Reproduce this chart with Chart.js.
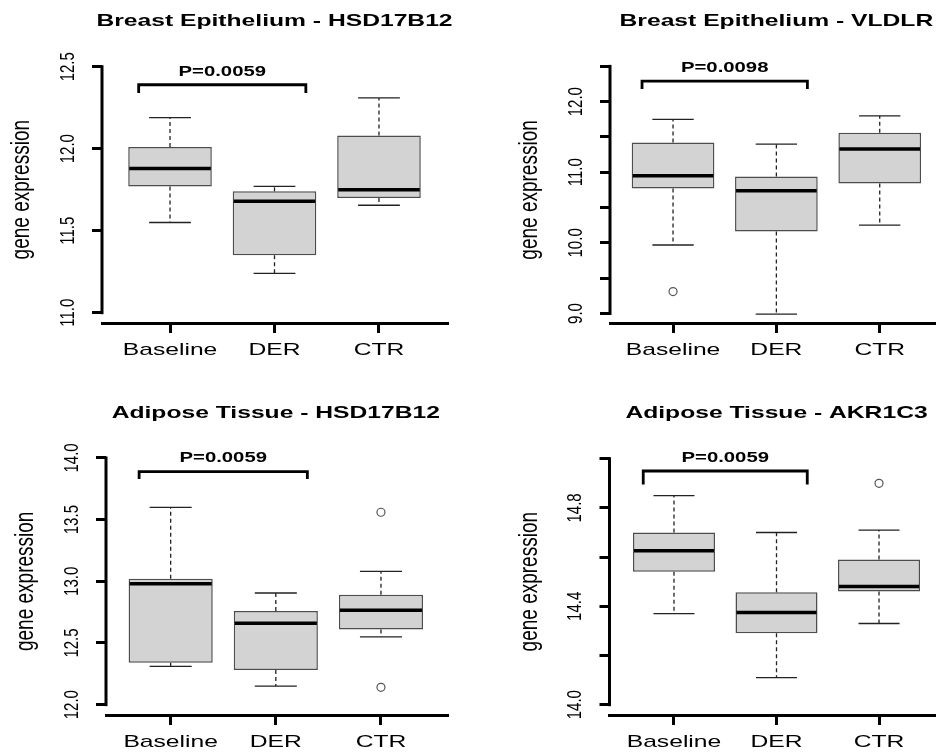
<!DOCTYPE html>
<html>
<head>
<meta charset="utf-8">
<script src="https://cdn.jsdelivr.net/npm/chart.js@4.4.1/dist/chart.umd.min.js"></script>
<style>
  html, body { margin: 0; padding: 0; background: #fff; overflow: hidden; }
  #wrap { position: relative; width: 940px; height: 754px; }
  canvas { position: absolute; }
</style>
</head>
<body>
<div id="wrap">
  <canvas id="c1" width="470" height="377" style="left:0;top:0"></canvas>
  <canvas id="c2" width="470" height="377" style="left:470px;top:0"></canvas>
  <canvas id="c3" width="470" height="377" style="left:0;top:377px"></canvas>
  <canvas id="c4" width="470" height="377" style="left:470px;top:377px"></canvas>
</div>
<script>
const groups = ['Baseline', 'DER', 'CTR'];

// per group: [lower whisker, Q1, median, Q3, upper whisker]
const breastHsdStats = [[11.55, 11.77, 11.88, 12.01, 12.19], [11.24, 11.35, 11.68, 11.74, 11.77], [11.655, 11.70, 11.75, 12.08, 12.31]];
const breastHsdOut = [[], [], []];
const breastHsdTicks = [11.0, 11.5, 12.0, 12.5];
const breastHsdLabels = ['11.0', '11.5', '12.0', '12.5'];

const breastVldlrStats = [[9.97, 10.77, 10.95, 11.42, 11.75], [8.99, 10.16, 10.74, 10.94, 11.40], [10.25, 10.84, 11.33, 11.56, 11.80]];
const breastVldlrOut = [[9.31], [], []];
const breastVldlrTicks = [9.0, 9.5, 10.0, 10.5, 11.0, 11.5, 12.0, 12.5];
const breastVldlrLabels = ['9.0', '', '10.0', '', '11.0', '', '12.0', ''];

const adiposeHsdStats = [[12.31, 12.34, 12.98, 13.02, 13.60], [12.15, 12.28, 12.66, 12.76, 12.905], [12.55, 12.61, 12.765, 12.89, 13.08]];
const adiposeHsdOut = [[], [], [13.56, 12.14]];
const adiposeHsdTicks = [12.0, 12.5, 13.0, 13.5, 14.0];
const adiposeHsdLabels = ['12.0', '12.5', '13.0', '13.5', '14.0'];

const adiposeAkrStats = [[14.37, 14.54, 14.626, 14.70, 14.85], [14.11, 14.29, 14.375, 14.457, 14.70], [14.33, 14.46, 14.48, 14.59, 14.71]];
const adiposeAkrOut = [[], [], [14.90]];
const adiposeAkrTicks = [14.0, 14.2, 14.4, 14.6, 14.8, 15.0];
const adiposeAkrLabels = ['14.0', '', '14.4', '', '14.8', ''];

const titles = ['Breast Epithelium - HSD17B12', 'Breast Epithelium - VLDLR', 'Adipose Tissue - HSD17B12', 'Adipose Tissue - AKR1C3'];
const pValues = ['P=0.0059', 'P=0.0098', 'P=0.0059', 'P=0.0059'];
const yTitle = 'gene expression';

const FONT = "'Liberation Sans', Arial, sans-serif";
const SX = 1.45;  // horizontal text looks stretched in the original
const SX_UP = 1.35; // same for the rotated text, a bit less

// panel setup (plot box in canvas px, axis ranges, bracket height)
const panels = [
  { id: 'c1', title: titles[0], stats: breastHsdStats, outliers: breastHsdOut, ticks: breastHsdTicks, tickLabels: breastHsdLabels, pText: pValues[0], bracket: [12.39, 12.34],
    left: 102, right: 447, bottom: 323, xMin: 0.349, xMax: 3.651, yMin: 10.937, yMax: 12.602 },
  { id: 'c2', title: titles[1], stats: breastVldlrStats, outliers: breastVldlrOut, ticks: breastVldlrTicks, tickLabels: breastVldlrLabels, pText: pValues[1], bracket: [12.29, 12.18],
    left: 140, right: 470, bottom: 323, xMin: 0.39, xMax: 3.533, yMin: 8.865, yMax: 12.732 },
  { id: 'c3', title: titles[2], stats: adiposeHsdStats, outliers: adiposeHsdOut, ticks: adiposeHsdTicks, tickLabels: adiposeHsdLabels, pText: pValues[2], bracket: [13.89, 13.83],
    left: 106, right: 447, bottom: 338, xMin: 0.385, xMax: 3.628, yMin: 11.916, yMax: 14.251 },
  { id: 'c4', title: titles[3], stats: adiposeAkrStats, outliers: adiposeAkrOut, ticks: adiposeAkrTicks, tickLabels: adiposeAkrLabels, pText: pValues[3], bracket: [14.95, 14.895],
    left: 139.5, right: 470, bottom: 338, xMin: 0.371, xMax: 3.544, yMin: 13.958, yMax: 15.129 }
];

function line(ctx, x1, y1, x2, y2) {
  ctx.beginPath();
  ctx.moveTo(x1, y1);
  ctx.lineTo(x2, y2);
  ctx.stroke();
}

function wideText(ctx, text, x, y, font) {
  ctx.save();
  ctx.translate(x, y);
  ctx.scale(SX, 1);
  ctx.font = font;
  ctx.fillText(text, 0, 0);
  ctx.restore();
}

function upText(ctx, text, x, y, font) {
  ctx.save();
  ctx.translate(x, y);
  ctx.scale(SX_UP, 1);
  ctx.rotate(-Math.PI / 2);
  ctx.font = font;
  ctx.fillText(text, 0, 0);
  ctx.restore();
}

// whiskers, caps and medians
const boxParts = {
  id: 'boxParts',
  afterDatasetsDraw(chart) {
    const p = chart.options.plugins.boxParts;
    const { ctx } = chart;
    const { x, y } = chart.scales;
    const bars = chart.getDatasetMeta(0).data;
    ctx.save();
    p.stats.forEach((s, i) => {
      const cx = x.getPixelForValue(i + 1);
      const capL = x.getPixelForValue(i + 0.8);
      const capR = x.getPixelForValue(i + 1.2);
      ctx.strokeStyle = '#222';
      ctx.lineWidth = 1.3;
      ctx.setLineDash([4, 3]);
      line(ctx, cx, y.getPixelForValue(s[3]), cx, y.getPixelForValue(s[4]));
      line(ctx, cx, y.getPixelForValue(s[1]), cx, y.getPixelForValue(s[0]));
      ctx.setLineDash([]);
      line(ctx, capL, y.getPixelForValue(s[4]), capR, y.getPixelForValue(s[4]));
      line(ctx, capL, y.getPixelForValue(s[0]), capR, y.getPixelForValue(s[0]));
      const b = bars[i];
      ctx.strokeStyle = '#000';
      ctx.lineWidth = 3.5;
      line(ctx, b.x - b.width / 2 + 1, y.getPixelForValue(s[2]), b.x + b.width / 2 - 1, y.getPixelForValue(s[2]));
    });
    ctx.restore();
  },
  afterDraw(chart) {
    const p = chart.options.plugins.boxParts;
    const { ctx, chartArea } = chart;
    const { x, y } = chart.scales;
    const topTick = y.getPixelForValue(p.ticks[p.ticks.length - 1]);
    const lowTick = y.getPixelForValue(p.ticks[0]);
    ctx.save();
    ctx.fillStyle = '#000';
    ctx.strokeStyle = '#000';
    ctx.textAlign = 'center';
    ctx.textBaseline = 'middle';

    // y axis line over the tick range only
    ctx.lineWidth = 3;
    ctx.lineCap = 'square';
    line(ctx, chartArea.left, lowTick, chartArea.left, topTick);
    ctx.lineCap = 'butt';

    // rotated tick labels
    p.ticks.forEach((v, i) => {
      if (p.tickLabels[i]) upText(ctx, p.tickLabels[i], chartArea.left - 34, y.getPixelForValue(v), '15px ' + FONT);
    });
    upText(ctx, yTitle, chartArea.left - 80, (topTick + lowTick) / 2, '19px ' + FONT);

    // group labels
    groups.forEach((g, i) => {
      wideText(ctx, g, x.getPixelForValue(i + 1), chartArea.bottom + 27, '17px ' + FONT);
    });

    // title
    wideText(ctx, p.title, x.getPixelForValue(2), topTick - 45, 'bold 17px ' + FONT);

    // significance bracket
    const bx1 = x.getPixelForValue(0.7);
    const bx2 = x.getPixelForValue(2.3);
    const by = y.getPixelForValue(p.bracket[0]);
    const byLow = y.getPixelForValue(p.bracket[1]);
    ctx.lineWidth = 2.8;
    ctx.beginPath();
    ctx.moveTo(bx1, byLow);
    ctx.lineTo(bx1, by);
    ctx.lineTo(bx2, by);
    ctx.lineTo(bx2, byLow);
    ctx.stroke();
    wideText(ctx, p.pText, (bx1 + bx2) / 2, by - 13, 'bold 14px ' + FONT);
    ctx.restore();
  }
};

panels.forEach(p => {
  new Chart(document.getElementById(p.id), {
    type: 'bar',
    data: {
      datasets: [
        {
          data: p.stats.map((s, i) => ({ x: i + 1, y: [s[1], s[3]] })),
          backgroundColor: '#d3d3d3',
          borderColor: '#4d4d4d',
          borderWidth: 1.5,
          borderSkipped: false,
          categoryPercentage: 1,
          barPercentage: 0.8
        },
        {
          type: 'scatter',
          data: p.outliers.flatMap((vals, i) => vals.map(v => ({ x: i + 1, y: v }))),
          pointStyle: 'circle',
          radius: 4,
          borderColor: '#555',
          backgroundColor: 'rgba(0,0,0,0)',
          borderWidth: 1.2
        }
      ]
    },
    options: {
      responsive: false,
      animation: false,
      layout: { padding: { top: 50, right: 470 - p.right, left: 0, bottom: 0 } },
      plugins: { legend: { display: false }, tooltip: { enabled: false }, boxParts: p },
      scales: {
        x: {
          type: 'linear', min: p.xMin, max: p.xMax, offset: false,
          afterBuildTicks: s => { s.ticks = groups.map((g, i) => ({ value: i + 1 })); },
          afterFit: s => { s.height = 377 - p.bottom; },
          ticks: { display: false },
          grid: { display: true, offset: false, drawOnChartArea: false, drawTicks: true, tickLength: 10, lineWidth: 3, color: '#000' },
          border: { display: true, width: 3, color: '#000' }
        },
        y: {
          type: 'linear', min: p.yMin, max: p.yMax,
          afterBuildTicks: s => { s.ticks = p.ticks.map(v => ({ value: v })); },
          afterFit: s => { s.width = p.left; },
          ticks: { display: false },
          grid: { display: true, drawOnChartArea: false, drawTicks: true, tickLength: 10, lineWidth: 3, color: '#000' },
          border: { display: false }
        }
      }
    },
    plugins: [boxParts]
  });
});
</script>
</body>
</html>
